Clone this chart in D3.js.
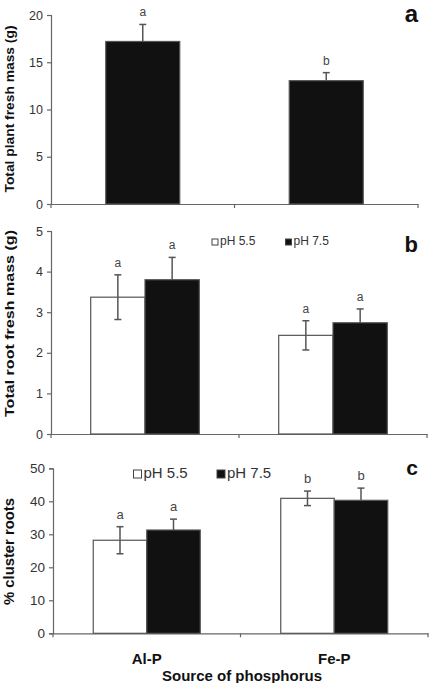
<!DOCTYPE html>
<html><head><meta charset="utf-8">
<script src="https://cdn.jsdelivr.net/npm/d3@7"></script>
<style>body{margin:0;background:#fff}svg{display:block}</style>
</head><body>
<script>
// ---- data ----
const categories = ["Al-P", "Fe-P"];
const seriesNames = ["pH 5.5", "pH 7.5"];
// panel a
const plantMass = [17.2, 13.05];
const plantErr = [1.8, 0.85];
const plantLetters = ["a", "b"];
// panel b
const root55 = [3.37, 2.43];
const root55Err = [0.55, 0.36];
const root75 = [3.80, 2.74];
const root75Err = [0.55, 0.34];
const rootLetters55 = ["a", "a"];
const rootLetters75 = ["a", "a"];
// panel c
const cluster55 = [28.2, 40.9];
const cluster55Err = [4.1, 2.2];
const cluster75 = [31.3, 40.3];
const cluster75Err = [3.3, 3.7];
const clusterLetters55 = ["a", "b"];
const clusterLetters75 = ["a", "b"];
// ticks
const ticksA = [0, 5, 10, 15, 20];
const ticksB = [0, 1, 2, 3, 4, 5];
const ticksC = [0, 10, 20, 30, 40, 50];

const W = 429, H = 683;
const svg = d3.select("body").append("svg").attr("width", W).attr("height", H)
  .style("font-family", "'Liberation Sans', Arial, sans-serif");

const axisColor = "#666", errColor = "#555", textColor = "#333";

function panel(cfg) {
  const g = svg.append("g");
  const x = d3.scaleBand().domain(categories).range([cfg.x0, cfg.x1]).padding(0);
  const y = d3.scaleLinear().domain([0, cfg.max]).range([cfg.y0, cfg.y1]);
  // y axis
  const ya = g.append("g").attr("transform", `translate(${cfg.x0},0)`)
    .call(d3.axisLeft(y).tickValues(cfg.ticks).tickFormat(d3.format("d")).tickSize(4).tickPadding(4));
  ya.select(".domain").attr("stroke", axisColor).attr("stroke-width", 1.2);
  ya.selectAll(".tick line").attr("stroke", axisColor).attr("stroke-width", 1.2);
  ya.selectAll("text").attr("fill", textColor).style("font-size", cfg.tickFont + "px")
    .style("font-family", "'Liberation Sans', Arial, sans-serif");
  // x axis
  const xa = g.append("g").attr("transform", `translate(0,${cfg.y0})`)
    .call(d3.axisBottom(x).tickSize(0).tickFormat(""));
  xa.select(".domain").attr("stroke", axisColor).attr("stroke-width", 1.2);
  const bounds = [cfg.x0, x(categories[1]), cfg.x1];
  g.selectAll(".xt").data(bounds).enter().append("line")
    .attr("x1", d => d).attr("x2", d => d).attr("y1", cfg.y0).attr("y2", cfg.y0 + 4)
    .attr("stroke", axisColor).attr("stroke-width", 1.2);

  // series
  const sub = d3.scaleBand().domain(cfg.series.map((s, i) => i))
    .range([-cfg.groupW / 2, cfg.groupW / 2]).padding(0);
  cfg.series.forEach((s, si) => {
    categories.forEach((c, ci) => {
      const cx = x(c) + x.bandwidth() / 2 + sub(si);
      const bw = sub.bandwidth();
      const v = s.values[ci], e = s.err[ci];
      g.append("rect").attr("x", cx).attr("y", y(v)).attr("width", bw)
        .attr("height", y(0) - y(v)).attr("fill", s.fill)
        .attr("stroke", s.stroke).attr("stroke-width", 1.2);
      const mx = cx + bw / 2;
      const lo = s.fill === "#fff" ? v - e : v;
      g.append("line").attr("x1", mx).attr("x2", mx).attr("y1", y(lo)).attr("y2", y(v + e))
        .attr("stroke", errColor).attr("stroke-width", 1.5);
      g.append("line").attr("x1", mx - 3.5).attr("x2", mx + 3.5).attr("y1", y(v + e)).attr("y2", y(v + e))
        .attr("stroke", errColor).attr("stroke-width", 1.5);
      if (s.fill === "#fff")
        g.append("line").attr("x1", mx - 3.5).attr("x2", mx + 3.5).attr("y1", y(v - e)).attr("y2", y(v - e))
          .attr("stroke", errColor).attr("stroke-width", 1.5);
      g.append("text").attr("x", mx).attr("y", y(v + e) - 8).attr("text-anchor", "middle")
        .attr("fill", "#444").style("font-size", cfg.sigFont + "px").text(s.letters[ci]);
    });
  });
  // y title
  g.append("text").attr("transform", `translate(${cfg.titleX},${cfg.titleY}) rotate(-90)`)
    .attr("text-anchor", "middle").attr("font-weight", "bold").attr("fill", "#111")
    .style("font-size", cfg.titleFont + "px")
    .attr("textLength", cfg.titleLen).attr("lengthAdjust", "spacingAndGlyphs")
    .text(cfg.title);
  // panel letter
  g.append("text").attr("x", 418).attr("y", cfg.letterY).attr("text-anchor", "end")
    .attr("font-weight", "bold").attr("fill", "#111").style("font-size", cfg.letterFont + "px")
    .text(cfg.letter);
  // legend
  if (cfg.legend) {
    const L = cfg.legend;
    cfg.series.forEach((s, si) => {
      const lx = L.xs[si];
      g.append("rect").attr("x", lx).attr("y", L.y - L.sq).attr("width", L.sq).attr("height", L.sq)
        .attr("fill", s.fill).attr("stroke", "#444").attr("stroke-width", 1);
      g.append("text").attr("x", lx + L.sq + 2).attr("y", L.y).attr("fill", "#333")
        .style("font-size", L.font + "px").text(seriesNames[si]);
    });
  }
  return {x, y};
}

panel({x0: 51, x1: 418, y0: 204, y1: 15, max: 20, ticks: ticksA, tickFont: 12.5, sigFont: 12,
  groupW: 74,
  series: [{values: plantMass, err: plantErr, letters: plantLetters, fill: "#111", stroke: "#555"}],
  title: "Total plant fresh mass (g)", titleX: 14, titleY: 109, titleFont: 13.5, titleLen: 167,
  letter: "a", letterY: 22, letterFont: 24});

panel({x0: 51, x1: 427, y0: 434, y1: 231, max: 5, ticks: ticksB, tickFont: 12.5, sigFont: 12,
  groupW: 108.6,
  series: [{values: root55, err: root55Err, letters: rootLetters55, fill: "#fff", stroke: "#555"},
           {values: root75, err: root75Err, letters: rootLetters75, fill: "#111", stroke: "#555"}],
  title: "Total root fresh mass (g)", titleX: 14, titleY: 323.5, titleFont: 13.5, titleLen: 187,
  letter: "b", letterY: 252, letterFont: 22,
  legend: {xs: [212, 285.5], y: 245, sq: 6, font: 12}});

panel({x0: 53, x1: 428, y0: 633.3, y1: 468.3, max: 50, ticks: ticksC, tickFont: 13.5, sigFont: 13,
  groupW: 107,
  series: [{values: cluster55, err: cluster55Err, letters: clusterLetters55, fill: "#fff", stroke: "#555"},
           {values: cluster75, err: cluster75Err, letters: clusterLetters75, fill: "#111", stroke: "#555"}],
  title: "% cluster roots", titleX: 14, titleY: 551.5, titleFont: 15, titleLen: 107,
  letter: "c", letterY: 475, letterFont: 21,
  legend: {xs: [133.5, 217], y: 478, sq: 8, font: 15}});

// category labels & x title
const xc = d3.scaleBand().domain(categories).range([53, 428]);
svg.selectAll(".cat").data(categories).enter().append("text")
  .attr("x", d => xc(d) + xc.bandwidth() / 2).attr("y", 664).attr("text-anchor", "middle")
  .attr("font-weight", "bold").attr("fill", "#111").style("font-size", "15px").text(d => d);
svg.append("text").attr("x", 242).attr("y", 681).attr("text-anchor", "middle")
  .attr("font-weight", "bold").attr("fill", "#111").style("font-size", "15px")
  .attr("textLength", 160).attr("lengthAdjust", "spacingAndGlyphs").text("Source of phosphorus");
</script>
</body></html>
